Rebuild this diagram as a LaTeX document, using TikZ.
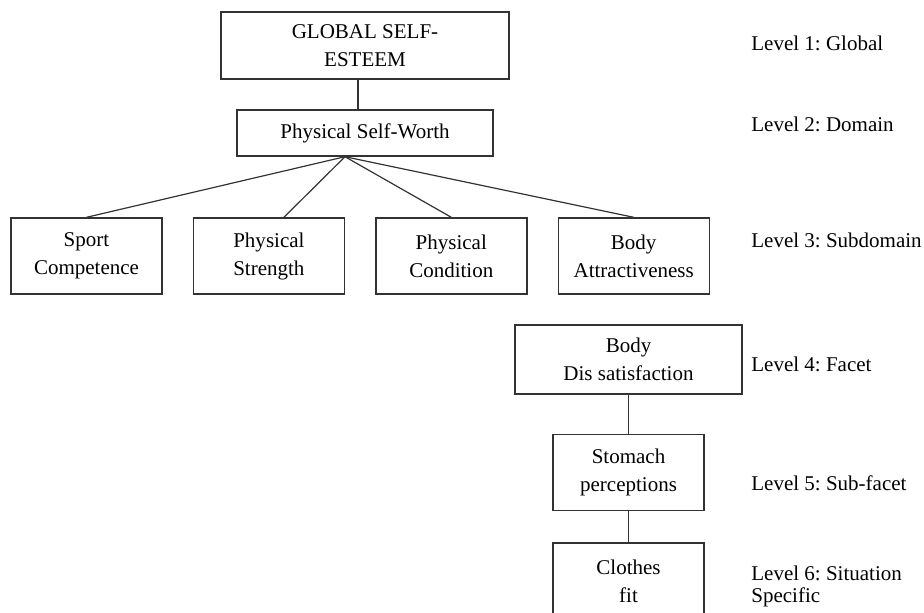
\documentclass[tikz,border=0pt]{standalone}
\usepackage{fontspec}
\setmainfont{Liberation Serif}
\usetikzlibrary{positioning}
\frenchspacing

\begin{document}
\begin{tikzpicture}[x=0.5pt, y=-0.5pt, node distance=15pt,
    box/.style={draw=black!80, line width=0.7pt, rectangle, align=center, inner sep=0pt, font=\fontsize{10.5}{14}\selectfont},
    sub/.style={box, minimum width=75.5pt, minimum height=38pt},
    lvl/.style={anchor=west, align=left, inner sep=0pt, font=\fontsize{10.5}{11}\selectfont},
    link/.style={draw=black!80, line width=0.6pt}]
    \useasboundingbox (0,0) rectangle (924,612);
    % Global and domain
    \node[box, minimum width=144pt, minimum height=33.5pt] (global) at (365,45.5) {GLOBAL SELF-\\ESTEEM};
    \node[box, minimum width=128pt, minimum height=23pt] (psw) at (365,133) {Physical Self-Worth};
    % Subdomains
    \node[sub] (sport) at (86.5,256) {Sport\\Competence};
    \node[sub, right=of sport] (strength) {Physical\\Strength};
    \node[sub, right=of strength] (condition) {Physical\\Condition};
    \node[sub, right=of condition] (body) {Body\\Attractiveness};
    % Facet, sub-facet, situation
    \node[box, minimum width=113.5pt, minimum height=34.5pt] (dissat) at (628.5,359.5) {Body\\Dis satisfaction};
    \node[sub, below=19.5pt of dissat] (stomach) {Stomach\\perceptions};
    \node[sub, below=15.5pt of stomach] (clothes) {Clothes\\fit};
    % Level labels
    \node[lvl] (lvl1) at (751,43) {Level 1: Global};
    \node[lvl] (lvl2) at (751,124) {Level 2: Domain};
    \node[lvl] (lvl3) at (751,240) {Level 3: Subdomain};
    \node[lvl] (lvl4) at (751,364) {Level 4: Facet};
    \node[lvl] (lvl5) at (751,483) {Level 5: Sub-facet};
    \node[lvl] (lvl6) at (751,586) {Level 6: Situation\\Specific};
    % Connections
    \draw[link] ([xshift=-3.5pt]global.south) -- ([xshift=-3.5pt]psw.north);
    \coordinate (hub) at ([xshift=-10pt]psw.south);
    \draw[link] (hub) -- (sport.north);
    \draw[link] (hub) -- ([xshift=7.5pt]strength.north);
    \draw[link] (hub) -- (condition.north);
    \draw[link] (hub) -- (body.north);
    \draw[link] (dissat.south) -- (stomach.north);
    \draw[link] (stomach.south) -- (clothes.north);
\end{tikzpicture}
\end{document}
